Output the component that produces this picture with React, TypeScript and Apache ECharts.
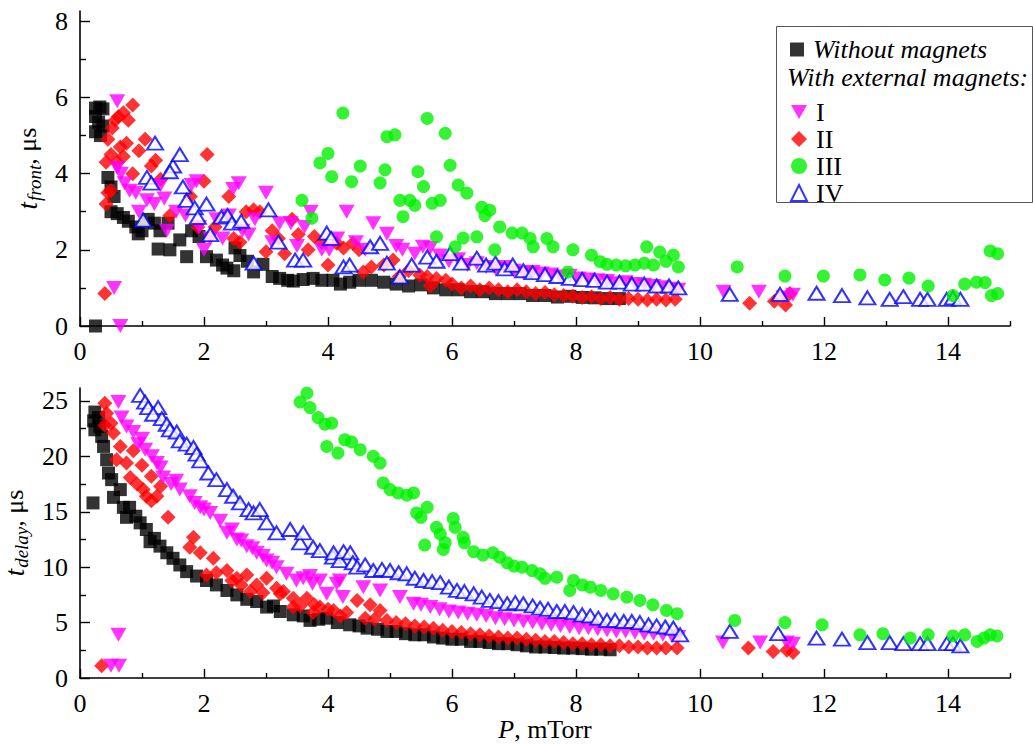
import React, { useEffect, useRef } from "react";
import * as echarts from "echarts";

// ---------- ticks ----------
const X_MAJOR = [0, 2, 4, 6, 8, 10, 12, 14];
const X_MINOR = [1, 3, 5, 7, 9, 11, 13, 15];
const TF_MAJOR = [0, 2, 4, 6, 8];
const TF_MINOR = [1, 3, 5, 7];
const TD_MAJOR = [0, 5, 10, 15, 20, 25];
const TD_MINOR = [2.5, 7.5, 12.5, 17.5, 22.5];

const SERIES_NAMES = ["Without magnets", "I", "II", "III", "IV"];

// ---------- top panel: t_front (µs) vs P (mTorr) ----------
const TF_NONE = [
  [0.25, 5.72], [0.32, 5.75], [0.37, 5.7], [0.25, 5.5], [0.3, 5.35], [0.25, 5.1], [0.33, 5.0], [0.37, 5.25], [0.25, 0.0],
  [0.45, 3.9], [0.5, 3.65], [0.55, 3.4], [0.5, 3.0], [0.6, 2.95], [0.7, 2.85], [0.78, 2.75], [0.9, 2.6], [0.94, 2.42],
  [1.0, 2.5], [1.1, 2.8], [1.2, 2.7], [1.29, 2.5], [1.42, 2.7], [1.26, 2.02], [1.45, 2.0], [1.61, 2.26], [1.72, 1.82],
  [1.8, 2.5], [1.92, 2.35], [2.04, 1.82], [2.2, 1.73], [2.3, 1.6], [2.37, 1.52], [2.48, 1.45], [2.5, 2.05], [2.58, 1.85],
  [2.7, 1.7], [2.8, 1.42], [2.95, 1.62], [3.1, 1.3], [3.22, 1.25], [3.35, 1.2], [3.44, 1.18], [3.6, 1.22], [3.76, 1.25],
  [3.9, 1.2], [4.08, 1.2], [4.2, 1.1], [4.35, 1.15], [4.5, 1.2], [4.7, 1.2], [4.9, 1.15], [5.1, 1.1], [5.3, 1.05],
  [5.5, 1.08], [5.7, 1.0], [5.9, 0.95], [6.1, 0.95], [6.3, 0.9], [6.5, 0.9], [6.7, 0.85], [6.9, 0.85], [7.1, 0.85],
  [7.3, 0.8], [7.5, 0.8], [7.7, 0.76], [7.9, 0.78], [8.1, 0.75], [8.3, 0.74], [8.5, 0.72], [8.7, 0.72],
];
const TF_II = [
  [0.4, 0.85], [0.42, 3.2], [0.45, 3.5], [0.5, 3.55], [0.42, 4.3], [0.5, 4.5], [0.45, 4.9], [0.52, 5.2], [0.57, 5.4],
  [0.62, 5.5], [0.7, 5.6], [0.85, 5.8], [0.78, 5.4], [0.65, 4.7], [0.75, 4.8], [0.6, 4.3], [0.7, 4.45], [0.85, 4.0],
  [0.95, 4.6], [1.05, 4.9], [1.15, 4.2], [1.22, 4.35], [1.3, 3.85], [1.45, 2.9], [1.78, 3.4], [1.9, 2.6], [2.0, 3.8],
  [2.05, 4.5], [2.18, 2.6], [2.4, 3.4], [2.48, 2.3], [2.58, 2.2], [2.68, 3.0], [2.8, 3.05], [2.9, 3.0], [3.0, 1.95],
  [3.1, 2.5], [3.2, 2.3], [3.3, 1.9], [3.42, 2.8], [3.52, 2.4], [3.68, 2.0], [3.78, 2.35], [3.9, 2.2], [4.0, 1.6],
  [4.14, 2.17], [4.25, 2.05], [4.4, 2.17], [4.5, 2.0], [4.57, 1.42], [4.7, 1.55], [4.9, 1.6], [5.05, 1.73], [5.15, 1.3],
  [5.3, 1.46], [5.48, 1.34], [5.6, 1.3], [5.65, 1.05], [5.75, 1.25], [5.9, 1.2], [6.0, 1.1], [6.15, 1.0], [6.3, 1.05],
  [6.45, 0.95], [6.6, 1.0], [6.75, 0.95], [6.9, 0.9], [7.05, 0.95], [7.2, 0.9], [7.35, 0.85], [7.5, 0.88], [7.65, 0.82],
  [7.8, 0.8], [7.95, 0.78], [8.1, 0.75], [8.25, 0.77], [8.4, 0.72], [8.55, 0.75], [8.7, 0.7], [8.85, 0.72], [9.0, 0.7],
  [9.15, 0.68], [9.3, 0.7], [9.45, 0.68], [9.6, 0.7], [10.8, 0.6], [11.2, 0.65], [11.38, 0.55], [11.45, 0.85],
];
const TF_I = [
  [0.6, 5.9], [0.65, 0.0], [0.55, 1.0], [0.6, 4.15], [0.66, 4.0], [0.72, 3.75], [0.8, 3.55], [0.9, 3.5], [0.95, 3.0],
  [1.08, 3.3], [1.2, 3.2], [1.3, 3.7], [1.36, 3.35], [1.4, 2.5], [1.55, 3.0], [1.7, 2.9], [1.8, 3.7], [1.88, 3.8],
  [1.92, 2.6], [2.0, 2.0], [2.1, 2.3], [2.2, 2.8], [2.3, 2.3], [2.4, 2.9], [2.47, 3.6], [2.56, 3.75], [2.62, 2.5],
  [2.72, 2.4], [2.82, 2.8], [3.0, 3.5], [3.1, 2.2], [3.22, 2.7], [3.4, 2.7], [3.5, 2.1], [3.62, 2.6], [3.72, 3.0],
  [3.9, 2.0], [4.02, 2.0], [4.15, 2.3], [4.3, 3.0], [4.45, 2.2], [4.6, 2.0], [4.73, 2.7], [4.95, 2.42], [5.1, 2.1],
  [5.2, 2.0], [5.4, 1.9], [5.53, 2.08], [5.65, 2.05], [5.8, 1.85], [5.95, 1.7], [6.1, 1.75], [6.25, 1.6], [6.4, 1.65],
  [6.55, 1.55], [6.7, 1.5], [6.85, 1.55], [7.0, 1.45], [7.15, 1.4], [7.3, 1.42], [7.45, 1.38], [7.6, 1.35], [7.75, 1.3],
  [7.9, 1.32], [8.05, 1.25], [8.2, 1.22], [8.35, 1.2], [8.5, 1.18], [8.65, 1.12], [8.8, 1.15], [8.95, 1.1], [9.1, 1.08],
  [9.25, 1.05], [9.4, 1.02], [9.55, 0.98], [9.65, 0.95], [10.38, 0.9], [10.95, 0.9], [11.35, 0.75], [11.5, 0.82],
];
const TF_III = [
  [3.58, 3.3], [3.74, 2.83], [3.87, 4.28], [4.0, 4.53], [4.06, 3.92], [4.24, 5.59], [4.38, 3.79], [4.52, 4.2],
  [4.84, 3.76], [4.92, 4.1], [4.95, 4.97], [5.08, 5.02], [5.16, 3.3], [5.21, 2.87], [5.32, 3.3], [5.4, 3.17],
  [5.45, 4.05], [5.54, 3.66], [5.6, 5.45], [5.68, 3.22], [5.75, 2.34], [5.81, 3.3], [5.89, 5.06], [5.97, 4.22],
  [6.05, 2.08], [6.1, 3.7], [6.18, 2.31], [6.24, 3.49], [6.4, 2.34], [6.48, 3.12], [6.53, 2.9], [6.61, 3.04],
  [6.69, 2.0], [6.77, 2.6], [6.97, 2.44], [7.13, 2.44], [7.26, 2.3], [7.31, 2.08], [7.53, 2.3], [7.63, 2.08],
  [7.87, 1.42], [7.95, 2.0], [8.25, 1.86], [8.39, 1.69], [8.5, 1.62], [8.65, 1.6], [8.8, 1.58], [8.95, 1.6],
  [9.1, 1.65], [9.14, 2.08], [9.25, 1.6], [9.35, 1.94], [9.45, 1.7], [9.57, 1.86], [9.65, 1.55], [10.6, 1.55],
  [11.37, 1.31], [11.99, 1.31], [12.58, 1.34], [12.98, 1.21], [13.37, 1.26], [13.68, 1.05], [14.08, 0.8],
  [14.27, 1.1], [14.46, 1.15], [14.6, 1.14], [14.68, 1.97], [14.8, 1.9], [14.7, 0.8], [14.8, 0.85],
];
const TF_IV = [
  [1.02, 2.78], [1.21, 4.8], [1.08, 3.9], [1.15, 3.75], [1.5, 4.2], [1.45, 4.05], [1.61, 4.5], [1.66, 3.65],
  [1.72, 3.3], [1.85, 3.1], [2.04, 3.2], [1.9, 2.85], [2.1, 2.4], [2.28, 2.86], [2.38, 2.9], [2.45, 2.7], [2.6, 2.75],
  [2.8, 1.65], [3.04, 3.05], [3.2, 2.2], [3.47, 1.73], [3.6, 1.73], [3.98, 2.44], [4.05, 2.3], [4.25, 1.55],
  [4.35, 1.6], [4.68, 2.08], [4.84, 2.17], [4.95, 1.65], [5.16, 1.29], [5.35, 1.6], [5.6, 1.81], [5.75, 1.7],
  [5.97, 1.9], [6.15, 1.65], [6.4, 1.78], [6.55, 1.6], [6.7, 1.65], [6.85, 1.5], [6.98, 1.6], [7.15, 1.45],
  [7.3, 1.4], [7.5, 1.35], [7.7, 1.3], [7.9, 1.25], [8.1, 1.22], [8.3, 1.2], [8.5, 1.15], [8.7, 1.15], [8.9, 1.1],
  [9.1, 1.1], [9.3, 1.05], [9.5, 1.05], [9.65, 1.0], [10.48, 0.83], [11.29, 0.83], [11.88, 0.86], [12.29, 0.8],
  [12.7, 0.74], [13.06, 0.7], [13.28, 0.77], [13.55, 0.7], [13.67, 0.7], [13.98, 0.7], [14.08, 0.74], [14.2, 0.7],
];

// ---------- bottom panel: t_delay (µs) vs P (mTorr) ----------
const TD_NONE = [
  [0.21, 15.8], [0.24, 24.0], [0.22, 23.2], [0.24, 22.4], [0.3, 23.5], [0.32, 22.7], [0.35, 21.8], [0.38, 20.9],
  [0.43, 19.7], [0.46, 18.5], [0.51, 17.9], [0.54, 16.3], [0.65, 17.0], [0.7, 15.4], [0.75, 14.5], [0.8, 15.4],
  [0.9, 14.6], [0.97, 14.0], [1.07, 13.4], [1.13, 12.3], [1.2, 12.6], [1.29, 11.9], [1.4, 11.3], [1.5, 10.8],
  [1.61, 10.2], [1.72, 9.6], [1.88, 9.2], [2.04, 8.8], [2.2, 8.4], [2.37, 7.9], [2.53, 7.5], [2.69, 7.1], [2.85, 6.9],
  [3.01, 6.4], [3.12, 6.5], [3.23, 6.0], [3.44, 5.7], [3.6, 5.6], [3.71, 5.2], [3.85, 5.3], [3.98, 5.4], [4.15, 5.0],
  [4.35, 4.8], [4.5, 4.7], [4.63, 4.5], [4.8, 4.4], [4.95, 4.2], [5.1, 4.2], [5.25, 4.0], [5.4, 3.9], [5.55, 3.9],
  [5.7, 3.7], [5.85, 3.6], [6.0, 3.5], [6.15, 3.5], [6.3, 3.3], [6.45, 3.3], [6.6, 3.2], [6.75, 3.1], [6.9, 3.1],
  [7.05, 3.0], [7.2, 2.9], [7.35, 2.8], [7.5, 2.8], [7.65, 2.75], [7.8, 2.7], [7.95, 2.7], [8.1, 2.65], [8.25, 2.6],
  [8.4, 2.6], [8.55, 2.55],
];
const TD_II = [
  [0.35, 1.1], [0.4, 24.8], [0.43, 23.9], [0.4, 22.8], [0.5, 23.0], [0.54, 22.1], [0.65, 20.9], [0.59, 19.7],
  [0.75, 19.4], [0.86, 20.5], [0.81, 18.1], [1.0, 19.2], [0.92, 17.5], [1.15, 18.2], [1.02, 17.0], [1.3, 17.3],
  [1.07, 16.4], [1.15, 16.0], [1.24, 16.4], [1.42, 14.5], [1.77, 11.8], [1.83, 12.7], [1.94, 11.3], [2.04, 9.3],
  [2.15, 10.8], [2.2, 9.5], [2.37, 9.7], [2.45, 8.8], [2.53, 9.0], [2.6, 8.4], [2.69, 9.3], [2.75, 7.8], [2.85, 8.4],
  [2.95, 7.7], [3.01, 9.0], [3.17, 8.1], [3.23, 7.6], [3.28, 7.8], [3.44, 7.2], [3.44, 6.4], [3.55, 6.5], [3.66, 7.2],
  [3.76, 5.9], [3.78, 6.6], [3.87, 6.4], [4.0, 6.2], [4.09, 6.1], [4.2, 5.6], [4.3, 5.9], [4.47, 7.0], [4.68, 6.6],
  [4.84, 6.1], [4.6, 5.4], [4.75, 5.3], [4.95, 5.2], [5.1, 5.0], [5.25, 4.9], [5.4, 4.7], [5.55, 4.6], [5.7, 4.5],
  [5.85, 4.3], [6.0, 4.2], [6.15, 4.1], [6.3, 4.0], [6.45, 3.9], [6.6, 3.8], [6.75, 3.7], [6.9, 3.6], [7.05, 3.6],
  [7.2, 3.5], [7.35, 3.4], [7.5, 3.3], [7.65, 3.3], [7.8, 3.2], [7.95, 3.1], [8.1, 3.1], [8.25, 3.0], [8.4, 3.0],
  [8.55, 2.9], [8.7, 2.9], [8.85, 2.8], [9.0, 2.8], [9.15, 2.7], [9.3, 2.7], [9.45, 2.7], [9.63, 2.7],
  [10.78, 2.7], [11.18, 2.4], [11.4, 2.5], [11.5, 2.3],
];
const TD_I = [
  [0.5, 1.1], [0.63, 1.1], [0.62, 3.9], [0.62, 24.9], [0.67, 23.5], [0.75, 22.7], [0.86, 22.2], [0.94, 21.1],
  [1.0, 21.6], [1.05, 20.6], [1.16, 20.0], [1.24, 19.4], [1.3, 19.0], [1.34, 18.1], [1.47, 17.5], [1.55, 17.8],
  [1.61, 17.0], [1.77, 16.4], [1.85, 15.8], [1.94, 15.4], [2.0, 15.2], [2.1, 14.9], [2.26, 14.2], [2.37, 13.1],
  [2.45, 13.4], [2.53, 12.5], [2.6, 12.4], [2.69, 11.9], [2.78, 11.7], [2.85, 11.3], [2.95, 11.0], [3.01, 10.6],
  [3.1, 10.4], [3.17, 10.0], [3.33, 9.4], [3.49, 8.8], [3.6, 9.0], [3.71, 9.2], [3.75, 8.5], [3.87, 8.8], [3.98, 7.6],
  [4.14, 8.5], [4.19, 8.8], [4.24, 7.3], [4.57, 8.2], [4.84, 7.9], [5.16, 7.3], [5.38, 6.7], [5.5, 6.6], [5.65, 6.4],
  [5.8, 6.2], [5.95, 6.0], [6.1, 5.9], [6.25, 5.8], [6.4, 5.7], [6.55, 5.6], [6.7, 5.4], [6.85, 5.3], [7.0, 5.2],
  [7.15, 5.1], [7.3, 5.0], [7.45, 4.9], [7.6, 4.8], [7.75, 4.7], [7.9, 4.6], [8.05, 4.5], [8.2, 4.5], [8.35, 4.4],
  [8.5, 4.3], [8.65, 4.2], [8.8, 4.2], [8.95, 4.1], [9.1, 4.0], [9.25, 4.0], [9.4, 3.9], [9.55, 3.8], [9.65, 3.7],
  [10.37, 3.2], [10.97, 3.2], [11.4, 3.2], [11.5, 3.1],
];
const TD_III = [
  [3.55, 24.9], [3.66, 25.7], [3.71, 24.4], [3.84, 23.5], [3.95, 22.9], [4.06, 23.0], [3.98, 20.9], [4.16, 20.3],
  [4.27, 21.5], [4.38, 21.3], [4.52, 20.6], [4.73, 20.0], [4.84, 19.4], [4.89, 17.6], [5.0, 17.0], [5.13, 16.7],
  [5.27, 16.5], [5.38, 16.7], [5.43, 14.9], [5.5, 14.5], [5.6, 15.4], [5.56, 12.0], [5.75, 13.6], [5.81, 13.0],
  [5.89, 12.2], [5.86, 11.6], [6.02, 14.4], [6.05, 13.6], [6.18, 12.7], [6.2, 12.2], [6.35, 11.4], [6.5, 11.1],
  [6.66, 11.3], [6.77, 10.9], [6.89, 10.4], [7.0, 10.1], [7.13, 10.0], [7.29, 9.7], [7.42, 9.4], [7.5, 9.0],
  [7.69, 9.1], [7.9, 7.9], [7.96, 8.8], [8.1, 8.4], [8.23, 8.2], [8.4, 7.9], [8.6, 7.6], [8.82, 7.3], [9.03, 7.0],
  [9.24, 6.6], [9.46, 6.1], [9.63, 5.8], [10.56, 5.2], [11.37, 5.0], [11.97, 4.8], [12.58, 3.9], [12.95, 4.0],
  [13.39, 3.6], [13.68, 3.9], [14.08, 3.8], [14.27, 3.9], [14.47, 3.3], [14.58, 3.6], [14.68, 3.9], [14.79, 3.8],
];
const TD_IV = [
  [0.97, 25.5], [1.05, 24.9], [1.1, 24.4], [1.26, 24.4], [1.18, 23.8], [1.32, 23.4], [1.4, 22.9], [1.45, 22.4],
  [1.56, 22.2], [1.61, 21.4], [1.72, 21.1], [1.83, 20.8], [1.88, 20.2], [1.94, 19.6], [2.07, 18.5], [2.2, 17.9],
  [2.37, 17.0], [2.47, 16.4], [2.58, 15.8], [2.72, 15.2], [2.8, 14.9], [2.9, 15.2], [3.01, 14.0], [3.17, 13.1],
  [3.39, 13.4], [3.55, 12.2], [3.6, 13.1], [3.76, 11.8], [3.87, 11.5], [4.08, 10.9], [4.09, 11.3], [4.19, 10.6],
  [4.25, 11.4], [4.36, 11.3], [4.4, 10.4], [4.47, 10.0], [4.6, 10.2], [4.73, 9.7], [4.87, 9.8], [5.0, 9.7],
  [5.14, 9.5], [5.27, 9.4], [5.4, 9.0], [5.54, 8.8], [5.68, 8.7], [5.81, 8.6], [5.95, 8.2], [6.08, 7.9], [6.2, 7.8],
  [6.35, 7.6], [6.48, 7.3], [6.61, 7.0], [6.75, 6.9], [6.89, 6.7], [7.02, 6.8], [7.15, 6.7], [7.3, 6.5], [7.42, 6.3],
  [7.55, 6.2], [7.69, 6.0], [7.82, 6.0], [7.96, 5.9], [8.1, 5.7], [8.23, 5.6], [8.36, 5.4], [8.5, 5.2], [8.63, 5.2],
  [8.77, 5.1], [8.9, 5.1], [9.03, 5.0], [9.17, 4.8], [9.3, 4.7], [9.44, 4.6], [9.57, 4.5], [9.68, 3.9],
  [10.48, 4.2], [11.26, 4.0], [11.88, 3.6], [12.29, 3.5], [12.7, 3.2], [13.06, 3.2], [13.28, 3.1], [13.55, 3.1],
  [13.67, 3.1], [13.98, 3.1], [14.08, 3.1], [14.2, 2.9],
];

const FONT = "Liberation Serif";
const DOWN_TRIANGLE = "path://M0,0L16,0L8,14Z";

const STYLE: Record<string, any> = {
  "Without magnets": { symbol: "rect", symbolSize: 13, itemStyle: { color: "#000000" } },
  I: { symbol: DOWN_TRIANGLE, symbolSize: [16, 14], itemStyle: { color: "#ff00ff" } },
  II: { symbol: "diamond", symbolSize: 15, itemStyle: { color: "#ff0000" } },
  III: { symbol: "circle", symbolSize: 13, itemStyle: { color: "#00f000" } },
  IV: {
    symbol: "emptyTriangle",
    symbolSize: [16, 13],
    itemStyle: { color: "#0000ff", borderColor: "#0000ff", borderWidth: 1.2 },
  },
};

const SERIF = { fontFamily: FONT, color: "#000" };
const LABEL = {
  margin: 12, fontSize: 26, ...SERIF,
  formatter: (v: number) => `{n|${v}}`,
  rich: { n: { fontSize: 26, ...SERIF } },
};

function mainX(gridIndex: number) {
  return {
    type: "value", gridIndex, min: 0, max: 15, interval: 1, position: "bottom",
    splitLine: { show: false },
    axisLine: { onZero: false, lineStyle: { color: "#000", width: 1.6 } },
    axisTick: { inside: true, length: 9, customValues: X_MAJOR, lineStyle: { color: "#000", width: 1.4 } },
    axisLabel: { customValues: X_MAJOR, ...LABEL },
  };
}
function minorX(gridIndex: number) {
  return {
    type: "value", gridIndex, min: 0, max: 15, interval: 1, position: "bottom",
    splitLine: { show: false },
    axisLine: { show: false, onZero: false },
    axisTick: { inside: true, length: 5, customValues: X_MINOR, lineStyle: { color: "#000", width: 1.4 } },
    axisLabel: { show: false },
  };
}
function mainY(gridIndex: number, max: number, major: number[], name: string, nameGap: number) {
  return {
    type: "value", gridIndex, min: 0, max, interval: 1, position: "left",
    splitLine: { show: false },
    axisLine: { onZero: false, lineStyle: { color: "#000", width: 1.6 } },
    axisTick: { inside: true, length: 10, customValues: major, lineStyle: { color: "#000", width: 1.4 } },
    axisLabel: { customValues: major, ...LABEL },
    name, nameLocation: "middle", nameGap,
    nameTextStyle: {
      fontSize: 26, ...SERIF,
      rich: {
        t: { fontStyle: "italic", fontSize: 27, ...SERIF, verticalAlign: "top" },
        s: { fontStyle: "italic", fontSize: 19, ...SERIF, verticalAlign: "top", padding: [11, 0, 0, 1] },
        c: { fontSize: 26, ...SERIF, verticalAlign: "top" },
      },
    },
  };
}
function minorY(gridIndex: number, max: number, minor: number[]) {
  return {
    type: "value", gridIndex, min: 0, max, interval: 1, position: "left",
    splitLine: { show: false },
    axisLine: { show: false, onZero: false },
    axisTick: { inside: true, length: 6, customValues: minor, lineStyle: { color: "#000", width: 1.4 } },
    axisLabel: { show: false },
  };
}

function scatter(name: string, data: number[][], xAxisIndex: number, yAxisIndex: number, z: number) {
  return { type: "scatter", name, data, xAxisIndex, yAxisIndex, z, ...STYLE[name] };
}

export default function App() {
  const ref = useRef<HTMLDivElement>(null);
  useEffect(() => {
    if (!ref.current) return;
    const chart = echarts.init(ref.current, null, { renderer: "svg" });
    const option: any = {
      animation: false,
      backgroundColor: "#ffffff",
      textStyle: { fontFamily: FONT, color: "#000" },
      grid: [
        { left: 80, top: 11, width: 930, height: 315, outerBoundsMode: "none", containLabel: false },
        { left: 80, top: 388, width: 930, height: 290, outerBoundsMode: "none", containLabel: false },
      ],
      xAxis: [
        mainX(0), minorX(0),
        {
          ...mainX(1),
          name: "{p|P}{c|, mTorr}", nameLocation: "middle", nameGap: 37,
          nameTextStyle: {
            fontSize: 26, ...SERIF,
            rich: {
              p: { fontStyle: "italic", fontSize: 26, ...SERIF },
              c: { fontSize: 26, ...SERIF },
            },
          },
        },
        minorX(1),
      ],
      yAxis: [
        mainY(0, 8.27, TF_MAJOR, "{t|t}{s|front}{c|, μs}", 31), minorY(0, 8.27, TF_MINOR),
        mainY(1, 26.17, TD_MAJOR, "{t|t}{s|delay}{c|, μs}", 36), minorY(1, 26.17, TD_MINOR),
      ],
      legend: [
        {
          data: [{ name: SERIES_NAMES[0], icon: "rect" }], orient: "vertical", left: 785, top: 31,
          itemWidth: 14, itemHeight: 14, itemGap: 0, selectedMode: false,
          formatter: (n: string) => `{i|${n}}`,
          textStyle: {
            fontSize: 26, ...SERIF, fontStyle: "italic", lineHeight: 27, padding: [0, 0, 0, 4],
            rich: { i: { fontSize: 26, ...SERIF, fontStyle: "italic" } },
          },
        },
        {
          data: [
            { name: "I", icon: DOWN_TRIANGLE },
            { name: "II" },
            { name: "III" },
            { name: "IV" },
          ],
          orient: "vertical", left: 785, top: 94, itemWidth: 16, itemHeight: 16, itemGap: 1, selectedMode: false,
          formatter: (n: string) => `{r|${n}}`,
          textStyle: {
            fontSize: 26, ...SERIF, lineHeight: 26, padding: [0, 0, 0, 4],
            rich: { r: { fontSize: 26, ...SERIF } },
          },
        },
      ],
      graphic: [
        {
          type: "rect", z: 1, left: 776, top: 26,
          shape: { width: 256, height: 176 },
          style: { fill: "#ffffff", stroke: "#555555", lineWidth: 1 },
        },
        {
          type: "text", z: 5, left: 787, top: 64,
          style: {
            text: "{i|With external magnets:}",
            rich: { i: { fontSize: 26, fontFamily: FONT, fontStyle: "italic", fill: "#000" } },
            fill: "#000",
          },
        },
      ],
      series: [
        scatter("Without magnets", TF_NONE, 0, 0, 2),
        scatter("II", TF_II, 0, 0, 3),
        scatter("I", TF_I, 0, 0, 4),
        scatter("IV", TF_IV, 0, 0, 5),
        scatter("III", TF_III, 0, 0, 6),
        scatter("Without magnets", TD_NONE, 2, 2, 2),
        scatter("II", TD_II, 2, 2, 3),
        scatter("I", TD_I, 2, 2, 4),
        scatter("IV", TD_IV, 2, 2, 5),
        scatter("III", TD_III, 2, 2, 6),
      ],
    };
    chart.setOption(option);
    return () => chart.dispose();
  }, []);
  return (
    <div
      ref={ref}
      style={{ position: "fixed", left: 0, top: 0, width: 1033, height: 745, background: "#fff" }}
    />
  );
}
